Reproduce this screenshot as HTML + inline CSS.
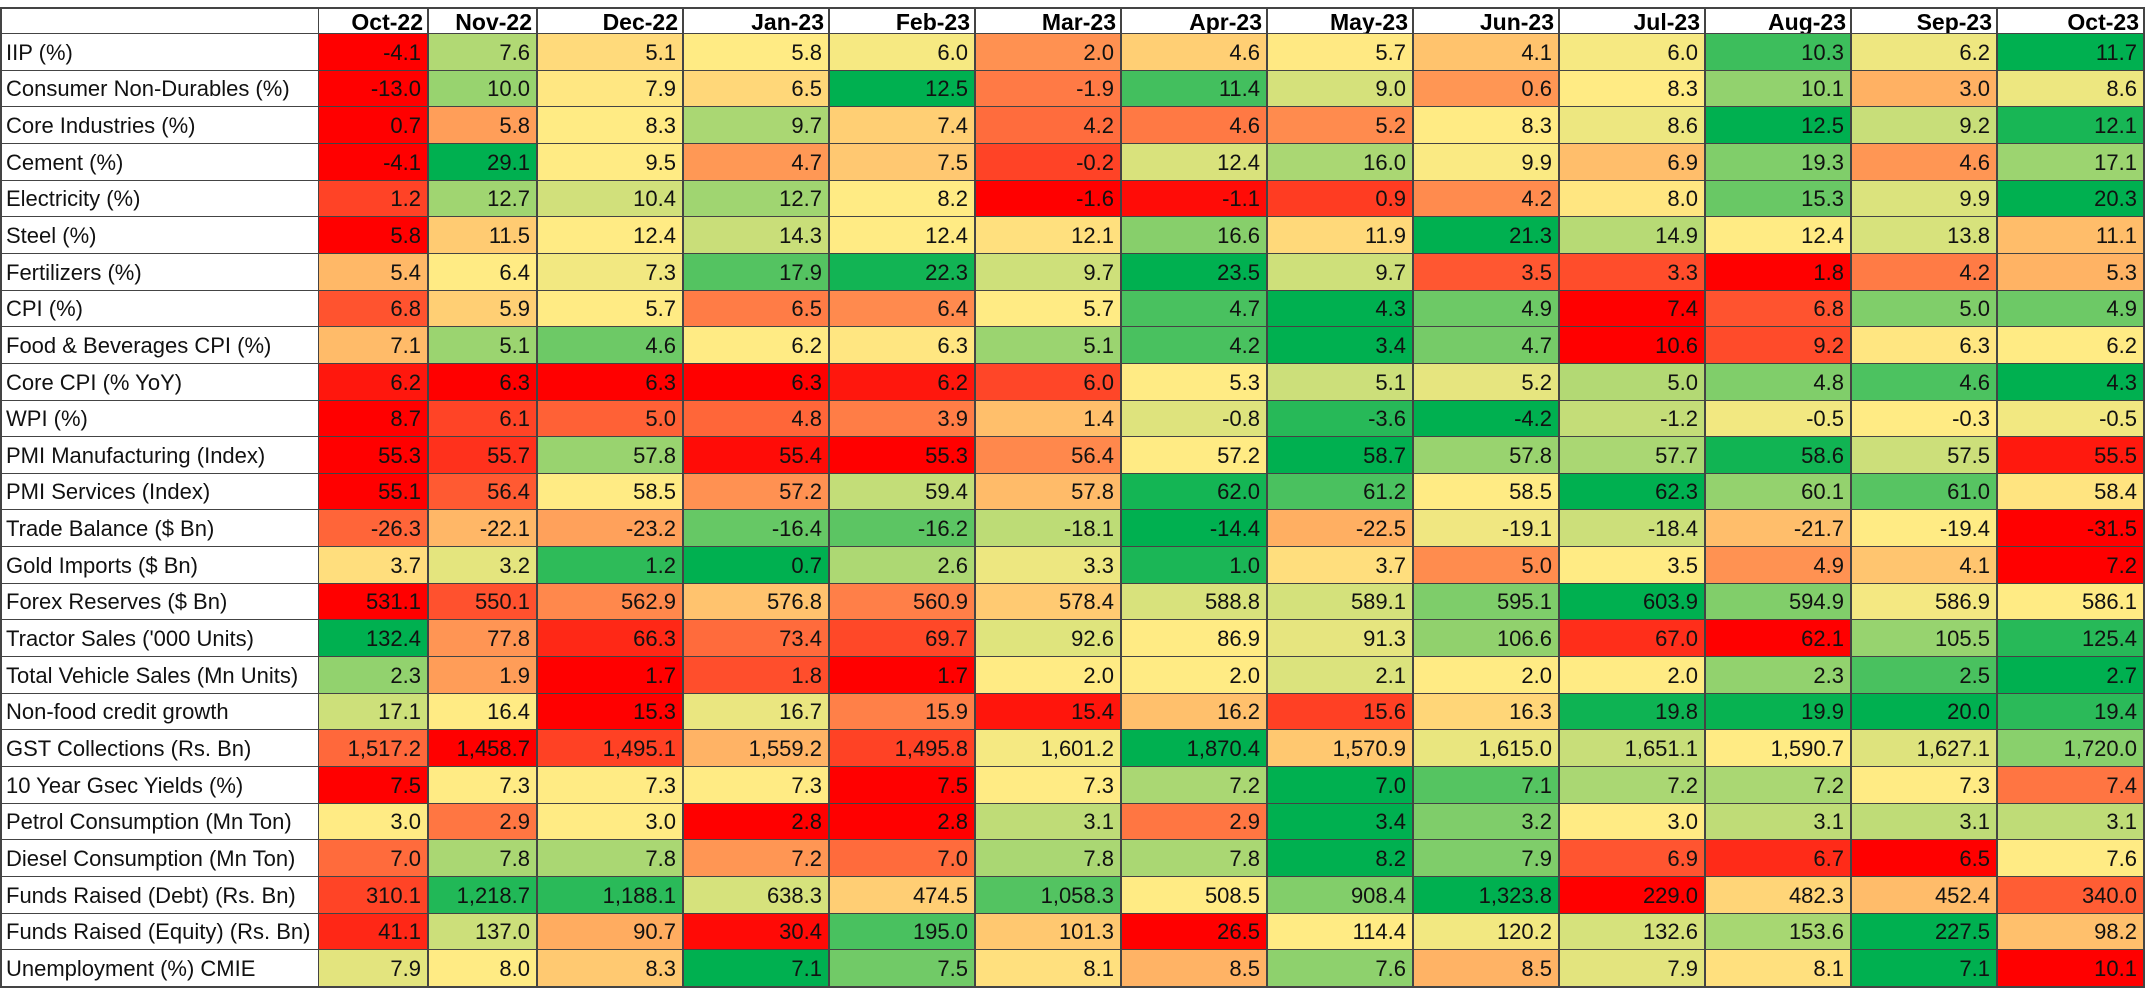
<!DOCTYPE html>
<html><head><meta charset="utf-8">
<style>
html,body{margin:0;padding:0;background:#fff;width:2145px;height:995px;overflow:hidden}
#grid{position:absolute;left:0;top:0;width:2145px;height:995px;font-family:"Liberation Sans","DejaVu Sans",sans-serif}
.c{position:absolute;box-sizing:border-box;border-right:2px solid #444;border-bottom:2px solid #444;font-size:22px;line-height:34px;white-space:nowrap;overflow:hidden;color:#111}
.n{text-align:right;padding-right:6px}
.l{text-align:left;padding-left:4px;background:#fff}
.h{font-weight:bold;text-align:right;padding-right:4px;background:#fff;line-height:26px;font-size:23px;color:#000}
</style></head><body>
<div id="grid"></div>
<script>
const months=["Oct-22","Nov-22","Dec-22","Jan-23","Feb-23","Mar-23","Apr-23","May-23","Jun-23","Jul-23","Aug-23","Sep-23","Oct-23"];
const labels=["IIP (%)","Consumer Non-Durables (%)","Core Industries (%)","Cement (%)","Electricity (%)","Steel (%)","Fertilizers (%)","CPI (%)","Food & Beverages CPI (%)","Core CPI (% YoY)","WPI (%)","PMI Manufacturing (Index)","PMI Services (Index)","Trade Balance ($ Bn)","Gold Imports ($ Bn)","Forex Reserves ($ Bn)","Tractor Sales ('000 Units)","Total Vehicle Sales (Mn Units)","Non-food credit growth","GST Collections (Rs. Bn)","10 Year Gsec Yields (%)","Petrol Consumption (Mn Ton)","Diesel Consumption (Mn Ton)","Funds Raised (Debt) (Rs. Bn)","Funds Raised (Equity) (Rs. Bn)","Unemployment (%) CMIE"];
const values=[
[-4.1,7.6,5.1,5.8,6.0,2.0,4.6,5.7,4.1,6.0,10.3,6.2,11.7],
[-13.0,10.0,7.9,6.5,12.5,-1.9,11.4,9.0,0.6,8.3,10.1,3.0,8.6],
[0.7,5.8,8.3,9.7,7.4,4.2,4.6,5.2,8.3,8.6,12.5,9.2,12.1],
[-4.1,29.1,9.5,4.7,7.5,-0.2,12.4,16.0,9.9,6.9,19.3,4.6,17.1],
[1.2,12.7,10.4,12.7,8.2,-1.6,-1.1,0.9,4.2,8.0,15.3,9.9,20.3],
[5.8,11.5,12.4,14.3,12.4,12.1,16.6,11.9,21.3,14.9,12.4,13.8,11.1],
[5.4,6.4,7.3,17.9,22.3,9.7,23.5,9.7,3.5,3.3,1.8,4.2,5.3],
[6.8,5.9,5.7,6.5,6.4,5.7,4.7,4.3,4.9,7.4,6.8,5.0,4.9],
[7.1,5.1,4.6,6.2,6.3,5.1,4.2,3.4,4.7,10.6,9.2,6.3,6.2],
[6.2,6.3,6.3,6.3,6.2,6.0,5.3,5.1,5.2,5.0,4.8,4.6,4.3],
[8.7,6.1,5.0,4.8,3.9,1.4,-0.8,-3.6,-4.2,-1.2,-0.5,-0.3,-0.5],
[55.3,55.7,57.8,55.4,55.3,56.4,57.2,58.7,57.8,57.7,58.6,57.5,55.5],
[55.1,56.4,58.5,57.2,59.4,57.8,62.0,61.2,58.5,62.3,60.1,61.0,58.4],
[-26.3,-22.1,-23.2,-16.4,-16.2,-18.1,-14.4,-22.5,-19.1,-18.4,-21.7,-19.4,-31.5],
[3.7,3.2,1.2,0.7,2.6,3.3,1.0,3.7,5.0,3.5,4.9,4.1,7.2],
[531.1,550.1,562.9,576.8,560.9,578.4,588.8,589.1,595.1,603.9,594.9,586.9,586.1],
[132.4,77.8,66.3,73.4,69.7,92.6,86.9,91.3,106.6,67.0,62.1,105.5,125.4],
[2.3,1.9,1.7,1.8,1.7,2.0,2.0,2.1,2.0,2.0,2.3,2.5,2.7],
[17.1,16.4,15.3,16.7,15.9,15.4,16.2,15.6,16.3,19.8,19.9,20.0,19.4],
[1517.2,1458.7,1495.1,1559.2,1495.8,1601.2,1870.4,1570.9,1615.0,1651.1,1590.7,1627.1,1720.0],
[7.5,7.3,7.3,7.3,7.5,7.3,7.2,7.0,7.1,7.2,7.2,7.3,7.4],
[3.0,2.9,3.0,2.8,2.8,3.1,2.9,3.4,3.2,3.0,3.1,3.1,3.1],
[7.0,7.8,7.8,7.2,7.0,7.8,7.8,8.2,7.9,6.9,6.7,6.5,7.6],
[310.1,1218.7,1188.1,638.3,474.5,1058.3,508.5,908.4,1323.8,229.0,482.3,452.4,340.0],
[41.1,137.0,90.7,30.4,195.0,101.3,26.5,114.4,120.2,132.6,153.6,227.5,98.2],
[7.9,8.0,8.3,7.1,7.5,8.1,8.5,7.6,8.5,7.9,8.1,7.1,10.1]];
const reversedRows=[7,8,9,10,14,20,25];

const colX=[0,319,429,538];
for(let i=3;i<=13;i++)colX[i+1]=538+146*(i-2);
colX[14]=2145;
const top0=7,headH=27,rowH=36.65;
const grid=document.getElementById('grid');
function lerp(a,b,t){return a.map((v,i)=>Math.round(v+(b[i]-v)*t));}
const RED=[255,0,0],YEL=[255,235,132],GRN=[0,176,80];
function color(v,row,r){
  const s=[...row].sort((a,b)=>a-b);const mn=s[0],mx=s[s.length-1],md=s[Math.floor(s.length/2)];
  let lo=RED,hi=GRN;if(reversedRows.includes(r)){lo=GRN;hi=RED;}
  let c;
  if(v<=md)c=lerp(lo,YEL,md===mn?1:(v-mn)/(md-mn));
  else c=lerp(YEL,hi,mx===md?0:(v-md)/(mx-md));
  return `rgb(${c[0]},${c[1]},${c[2]})`;
}
function fmt(v){return v.toLocaleString('en-US',{minimumFractionDigits:1,maximumFractionDigits:1});}
function cell(x0,x1,y0,y1,cls){
  const d=document.createElement('div');d.className='c '+cls;
  d.style.left=x0+'px';d.style.width=(x1-x0+1)+'px';
  d.style.top=y0+'px';d.style.height=(y1-y0+1)+'px';
  grid.appendChild(d);return d;
}
// header
const corner=cell(0,colX[1],top0,top0+headH,'h');


corner.style.borderTop='2px solid #444';corner.style.borderLeft='2px solid #444';
months.forEach((m,j)=>{
  const d=cell(colX[j+1],colX[j+2]-1,top0,top0+headH,'h');
  d.textContent=m;d.style.borderTop='2px solid #444';
  
  
});
labels.forEach((lab,r)=>{
  const y0=Math.round(top0+headH+r*rowH),y1=Math.round(top0+headH+(r+1)*rowH);
  const l=cell(0,colX[1],y0,y1,'l');l.textContent=lab;l.style.borderLeft='2px solid #444';
  l.style.lineHeight=(y1-y0)+'px';
  
  
  values[r].forEach((v,j)=>{
    const d=cell(colX[j+1],colX[j+2]-1,y0,y1,'n');
    d.textContent=fmt(v);d.style.background=color(v,values[r],r);
    d.style.lineHeight=(y1-y0)+'px';
    
    
  });
});
</script>
</body></html>
